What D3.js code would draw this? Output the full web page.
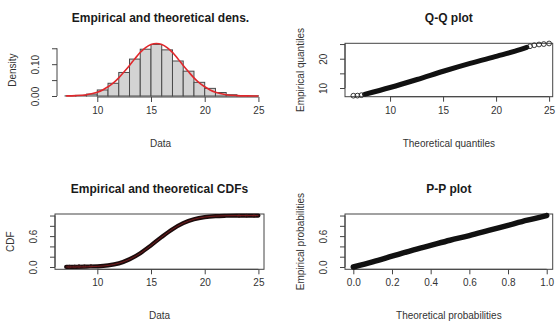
<!DOCTYPE html>
<html>
<head>
<meta charset="utf-8">
<script src="https://cdn.jsdelivr.net/npm/d3@7"></script>
<style>
  body { margin: 0; background: #fff; }
  svg { display: block; font-family: "Liberation Sans", Arial, sans-serif; }
</style>
</head>
<body>
<div id="chart"></div>
<script>
// histogram (density scale), breaks of width 1
var histBreaks = [7, 8, 9, 10, 11, 12, 13, 14, 15, 16, 17, 18, 19, 20, 21, 22, 23, 24, 25];
var histDensity = [0.0005, 0.002, 0.006, 0.019, 0.040, 0.074, 0.116, 0.147, 0.162, 0.145,
                   0.110, 0.078, 0.043, 0.024, 0.011, 0.004, 0.0015, 0.0005];

// fitted density curve (red)
var densX = [7.1, 8, 9, 10, 10.5, 11, 11.5, 12, 12.5, 13, 13.5, 14, 14.5, 15, 15.5,
             16, 16.5, 17, 17.5, 18, 18.5, 19, 19.5, 20, 20.5, 21, 22, 23, 24, 25];
var densY = [0.0004, 0.0013, 0.0042, 0.012, 0.019, 0.029, 0.041, 0.057, 0.076, 0.096, 0.117,
             0.137, 0.152, 0.162, 0.165, 0.162, 0.152, 0.137, 0.117, 0.096, 0.076, 0.057,
             0.041, 0.029, 0.019, 0.012, 0.0042, 0.0013, 0.0004, 0.0001];

// Q-Q plot: dense band of points plus the sparse points at both ends
var qqTheo = [7.6, 10.0, 12.55, 15.1, 17.55, 20.1, 21.8, 22.9];
var qqEmp  = [7.85, 10.17, 12.9, 15.8, 18.4, 20.9, 22.6, 23.9];
var qqTheoEnds = [6.54, 6.92, 7.3, 23.2, 23.6, 24.05, 24.5, 25.0];
var qqEmpEnds  = [7.37, 7.4, 7.55, 24.25, 24.6, 24.85, 25.0, 25.2];

// empirical and theoretical CDF
var cdfX    = [7.1, 8, 9, 10, 11, 12, 13, 14, 15, 16, 17, 18, 19, 20, 21, 22, 23, 24, 25];
var cdfEmp  = [0.002, 0.004, 0.008, 0.013, 0.030, 0.070, 0.150, 0.268, 0.420, 0.585, 0.735,
               0.852, 0.928, 0.970, 0.989, 0.996, 0.999, 1.0, 1.0];
var cdfTheo = [0.0002, 0.0009, 0.0034, 0.011, 0.030, 0.072, 0.149, 0.266, 0.418, 0.582, 0.734,
               0.851, 0.928, 0.970, 0.989, 0.9966, 0.9991, 0.9998, 1.0];
var cdfStrayX = [7.4, 7.9, 8.3, 8.8, 9.4, 23.2, 23.9, 24.6];
var cdfStrayY = [0.006, 0.010, 0.018, 0.016, 0.020, 0.992, 0.996, 0.994];

// P-P plot
var ppTheo = [0, 0.1, 0.2, 0.3, 0.4, 0.5, 0.6, 0.7, 0.8, 0.9, 1.0];
var ppEmp  = [0, 0.10, 0.21, 0.32, 0.42, 0.52, 0.61, 0.71, 0.81, 0.91, 1.0];

var width = 557, height = 322;

var svg = d3.select("#chart").append("svg")
    .attr("width", width)
    .attr("height", height);

// one panel = plot region in pixels, scales, titles
function panel(opt) {
  var x = d3.scaleLinear().domain(opt.xDomain).range([opt.left, opt.right]);
  var y = d3.scaleLinear().domain(opt.yDomain).range([opt.bottom, opt.top]);
  var g = svg.append("g");
  var axisY = opt.axisY || opt.bottom;

  if (opt.box) {
    g.append("rect")
      .attr("x", opt.left).attr("y", opt.top)
      .attr("width", opt.right - opt.left).attr("height", opt.bottom - opt.top)
      .attr("fill", "none").attr("stroke", "#444").attr("stroke-width", 1);
  }

  var xAxis = d3.axisBottom(x)
    .tickValues(opt.xTicks)
    .tickFormat(opt.xFormat)
    .tickSize(5).tickPadding(5).tickSizeOuter(0);
  var gx = g.append("g").attr("transform", "translate(0," + axisY + ")").call(xAxis);
  gx.select(".domain").attr("d", "M" + x(opt.xTicks[0]) + ",0H" + x(opt.xTicks[opt.xTicks.length - 1]));

  var yAxis = d3.axisLeft(y)
    .tickValues(opt.yTicks)
    .tickFormat(function(d) { return opt.yLabels.indexOf(d) >= 0 ? opt.yFormat(d) : ""; })
    .tickSize(5).tickSizeOuter(0);
  var gy = g.append("g").attr("transform", "translate(" + opt.left + ",0)").call(yAxis);
  gy.select(".domain").attr("d", "M0," + y(opt.yTicks[0]) + "V" + y(opt.yTicks[opt.yTicks.length - 1]));
  gy.selectAll(".tick text")
    .attr("x", null).attr("dy", null)
    .attr("text-anchor", "middle")
    .attr("transform", "translate(-18,0) rotate(-90)");

  g.selectAll(".domain, .tick line").attr("stroke", "#444");
  g.selectAll(".tick text").attr("fill", "#333").style("font-size", "10px");

  g.append("text")
    .attr("x", (opt.left + opt.right) / 2).attr("y", opt.top - 21)
    .attr("text-anchor", "middle")
    .style("font-size", "12px").style("font-weight", "bold").attr("fill", "#1a1a1a")
    .text(opt.title);

  g.append("text")
    .attr("x", (opt.left + opt.right) / 2).attr("y", opt.bottom + 50)
    .attr("text-anchor", "middle")
    .style("font-size", "10px").attr("fill", "#333")
    .text(opt.xLabel);

  g.append("text")
    .attr("transform", "translate(" + (opt.left - 41) + "," + ((opt.top + opt.bottom) / 2) + ") rotate(-90)")
    .attr("text-anchor", "middle")
    .style("font-size", "10px").attr("fill", "#333")
    .text(opt.yLabel);

  return { g: g, x: x, y: y };
}

var fmt1 = d3.format(".1f"), fmt2 = d3.format(".2f"), fmt0 = d3.format("d");

// ---- top left: histogram + density
var p1 = panel({
  left: 57, right: 264, top: 43.3, bottom: 97,
  xDomain: [6.25, 25.52], yDomain: [-0.0031, 0.1656],
  xTicks: [10, 15, 20, 25], xFormat: fmt0,
  yTicks: [0, 0.05, 0.10, 0.15], yLabels: [0, 0.10], yFormat: fmt2,
  title: "Empirical and theoretical dens.", xLabel: "Data", yLabel: "Density", box: false
});

var bins = histDensity.map(function(d, i) { return { x0: histBreaks[i], x1: histBreaks[i + 1], d: d }; });
p1.g.selectAll("rect.bar")
  .data(bins)
  .enter().append("rect")
  .attr("class", "bar")
  .attr("x", function(d) { return p1.x(d.x0); })
  .attr("width", function(d) { return p1.x(d.x1) - p1.x(d.x0); })
  .attr("y", function(d) { return p1.y(d.d); })
  .attr("height", function(d) { return p1.y(0) - p1.y(d.d); })
  .attr("fill", "#d3d3d3").attr("stroke", "#4a4a4a").attr("stroke-width", 1);

var densLine = d3.line()
  .x(function(d, i) { return p1.x(densX[i]); })
  .y(function(d) { return p1.y(d); })
  .curve(d3.curveMonotoneX);
p1.g.append("path")
  .attr("d", densLine(densY))
  .attr("fill", "none").attr("stroke", "#e0282c").attr("stroke-width", 1.6);

// ---- top right: Q-Q plot
var p2 = panel({
  left: 345, right: 552.7, top: 43.3, bottom: 96.7,
  xDomain: [5.75, 25.34], yDomain: [7.03, 25.26],
  xTicks: [10, 15, 20, 25], xFormat: fmt0,
  yTicks: [10, 15, 20, 25], yLabels: [10, 20], yFormat: fmt0,
  title: "Q-Q plot", xLabel: "Theoretical quantiles", yLabel: "Empirical quantiles", box: true
});

var qqLine = d3.line()
  .x(function(d, i) { return p2.x(qqTheo[i]); })
  .y(function(d) { return p2.y(d); })
  .curve(d3.curveMonotoneX);
p2.g.append("path")
  .attr("d", qqLine(qqEmp))
  .attr("fill", "none").attr("stroke", "#111").attr("stroke-width", 5)
  .attr("stroke-linecap", "round");
p2.g.selectAll("circle.end")
  .data(qqEmpEnds)
  .enter().append("circle")
  .attr("class", "end")
  .attr("cx", function(d, i) { return p2.x(qqTheoEnds[i]); })
  .attr("cy", function(d) { return p2.y(d); })
  .attr("r", 2.4)
  .attr("fill", "none").attr("stroke", "#222").attr("stroke-width", 0.9);

// ---- bottom left: CDFs
var p3 = panel({
  left: 55, right: 264, top: 214, bottom: 269.3,
  xDomain: [6.06, 25.52], yDomain: [-0.045, 1.03],
  xTicks: [10, 15, 20, 25], xFormat: fmt0,
  yTicks: [0, 0.2, 0.4, 0.6, 0.8, 1.0], yLabels: [0, 0.6], yFormat: fmt1,
  title: "Empirical and theoretical CDFs", xLabel: "Data", yLabel: "CDF", box: true
});

var cdfLine = d3.line()
  .x(function(d, i) { return p3.x(cdfX[i]); })
  .y(function(d) { return p3.y(d); })
  .curve(d3.curveMonotoneX);
p3.g.append("path")
  .attr("d", cdfLine(cdfEmp))
  .attr("fill", "none").attr("stroke", "#1c0c0c").attr("stroke-width", 4.2)
  .attr("stroke-linecap", "round");
p3.g.selectAll("circle.stray")
  .data(cdfStrayY)
  .enter().append("circle")
  .attr("class", "stray")
  .attr("cx", function(d, i) { return p3.x(cdfStrayX[i]); })
  .attr("cy", function(d) { return p3.y(d); })
  .attr("r", 1.4)
  .attr("fill", "none").attr("stroke", "#3a1a1a").attr("stroke-width", 0.8);
p3.g.append("path")
  .attr("d", cdfLine(cdfTheo))
  .attr("fill", "none").attr("stroke", "#c0282c").attr("stroke-width", 1)
  .attr("stroke-opacity", 0.55);

// ---- bottom right: P-P plot
var p4 = panel({
  left: 345, right: 552.7, top: 214, bottom: 269.3,
  xDomain: [-0.043, 1.031], yDomain: [-0.045, 1.03],
  xTicks: [0, 0.2, 0.4, 0.6, 0.8, 1.0], xFormat: fmt1,
  yTicks: [0, 0.2, 0.4, 0.6, 0.8, 1.0], yLabels: [0, 0.6], yFormat: fmt1,
  title: "P-P plot", xLabel: "Theoretical probabilities", yLabel: "Empirical probabilities", box: true
});

var ppLine = d3.line()
  .x(function(d, i) { return p4.x(ppTheo[i]); })
  .y(function(d) { return p4.y(d); })
  .curve(d3.curveMonotoneX);
p4.g.append("path")
  .attr("d", ppLine(ppEmp))
  .attr("fill", "none").attr("stroke", "#111").attr("stroke-width", 5.5)
  .attr("stroke-linecap", "round");
</script>
</body>
</html>
